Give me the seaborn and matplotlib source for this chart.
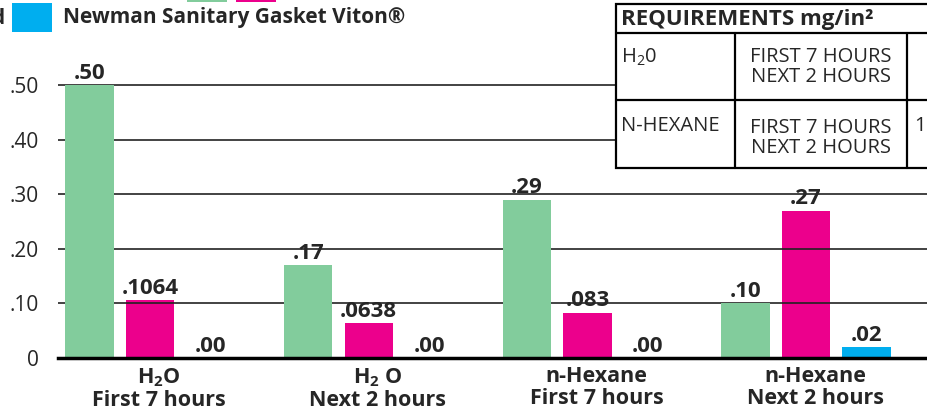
import pandas as pd
import seaborn as sns
import matplotlib.pyplot as plt
import matplotlib.transforms as mtransforms
from matplotlib.patches import Rectangle

# data
categories = ["H$_\\mathbf{2}$O\nFirst 7 hours", "H$_\\mathbf{2}$ O\nNext 2 hours",
              "n-Hexane\nFirst 7 hours", "n-Hexane\nNext 2 hours"]
series = ["Gasket A", "Gasket B", "Newman Sanitary Gasket Viton®"]
green_vals = [0.50, 0.17, 0.29, 0.10]
pink_vals = [0.1064, 0.0638, 0.083, 0.27]
blue_vals = [0.00, 0.00, 0.00, 0.02]
green_labels = [".50", ".17", ".29", ".10"]
pink_labels = [".1064", ".0638", ".083", ".27"]
blue_labels = [".00", ".00", ".00", ".02"]
y_ticks = [0, 0.10, 0.20, 0.30, 0.40, 0.50]
y_ticklabels = ["0", ".10", ".20", ".30", ".40", ".50"]

colors = ["#82cc9c", "#ec008c", "#00aeef"]

df = pd.DataFrame({
    "cat": categories * 3,
    "series": [s for s in series for _ in categories],
    "value": green_vals + pink_vals + blue_vals,
})

sns.set_style("white")
plt.rcParams["font.family"] = ["Open Sans", "DejaVu Sans"]
plt.rcParams["mathtext.fontset"] = "custom"
plt.rcParams["mathtext.rm"] = "Open Sans"
plt.rcParams["mathtext.bf"] = "Open Sans:bold"

W, H = 927, 418
fig = plt.figure(figsize=(W / 100, H / 100), dpi=100)
ax = fig.add_axes([58 / W, 60 / H, (W - 58) / W, 358 / H])

sns.barplot(data=df, x="cat", y="value", hue="series", hue_order=series,
            palette=colors, width=0.83, gap=0.2, saturation=1, linewidth=0,
            legend=False, ax=ax)

# green bars sit over the grid, pink ones under it
for cont, z in zip(ax.containers, [3, 1, 3]):
    for p in cont:
        p.set_zorder(z)

for y in y_ticks[1:]:
    ax.axhline(y, color="#222222", lw=1.2, zorder=2)

for cont, labs in zip(ax.containers, [green_labels, pink_labels, blue_labels]):
    ax.bar_label(cont, labels=labs, padding=1, fontsize=16, fontweight="bold", zorder=5)

ax.set_xlim(-0.421, 3.553)
ax.set_ylim(0, 358 / 546)
ax.set_yticks(y_ticks)
ax.set_yticklabels(y_ticklabels, fontsize=15)
ax.tick_params(axis="y", length=0, pad=14)
ax.tick_params(axis="x", length=0, pad=6)
shift = mtransforms.ScaledTranslation(0.09, 0, fig.dpi_scale_trans)
for lab in ax.get_xticklabels():
    lab.set_fontsize(15.5)
    lab.set_fontweight("bold")
    lab.set_linespacing(1.05)
    lab.set_transform(lab.get_transform() + shift)
ax.set_xlabel("")
ax.set_ylabel("")
for s in ["top", "right", "left"]:
    ax.spines[s].set_visible(False)
ax.spines["bottom"].set_linewidth(2.5)
ax.spines["bottom"].set_color("black")
ax.spines["bottom"].set_zorder(6)

# overlay in pixel coordinates for the legend and the requirements table
ov = fig.add_axes([0, 0, 1, 1], zorder=10)
ov.set_xlim(0, W)
ov.set_ylim(H, 0)
ov.axis("off")
ov.patch.set_alpha(0)

ov.add_patch(Rectangle((187, -10), 40, 12, color=colors[0], lw=0))
ov.add_patch(Rectangle((236, -10), 40, 12, color=colors[1], lw=0))
ov.add_patch(Rectangle((12, 3), 40, 29, color=colors[2], lw=0))
ov.text(4, 18, "d", ha="right", va="center", fontsize=15, fontweight="bold")
ov.text(63, 17, series[2], ha="left", va="center", fontsize=15, fontweight="bold")

tx0, tx1 = 616, 940
ov.add_patch(Rectangle((tx0, 4), tx1 - tx0, 164, facecolor="white",
                       edgecolor="black", lw=1.6))
ov.plot([tx0, tx1], [33, 33], color="black", lw=1.6)
ov.plot([tx0, tx1], [100, 100], color="black", lw=1.6)
ov.plot([735, 735], [33, 168], color="black", lw=1.6)
ov.plot([907, 907], [33, 168], color="black", lw=1.6)
ov.text(621, 19, "REQUIREMENTS mg/in²", ha="left", va="center",
        fontsize=16, fontweight="bold")
ov.text(621, 57, "H$_2$0", ha="left", va="center", fontsize=14.5)
ov.text(621, 126, "N-HEXANE", ha="left", va="center", fontsize=14.5)
for yy in (67, 138):
    ov.text(821, yy, "FIRST 7 HOURS\nNEXT 2 HOURS", ha="center", va="center",
            fontsize=14.5, linespacing=1.0)
ov.text(914, 126, "1", ha="left", va="center", fontsize=14.5)

fig.savefig("out.png", dpi=100)
